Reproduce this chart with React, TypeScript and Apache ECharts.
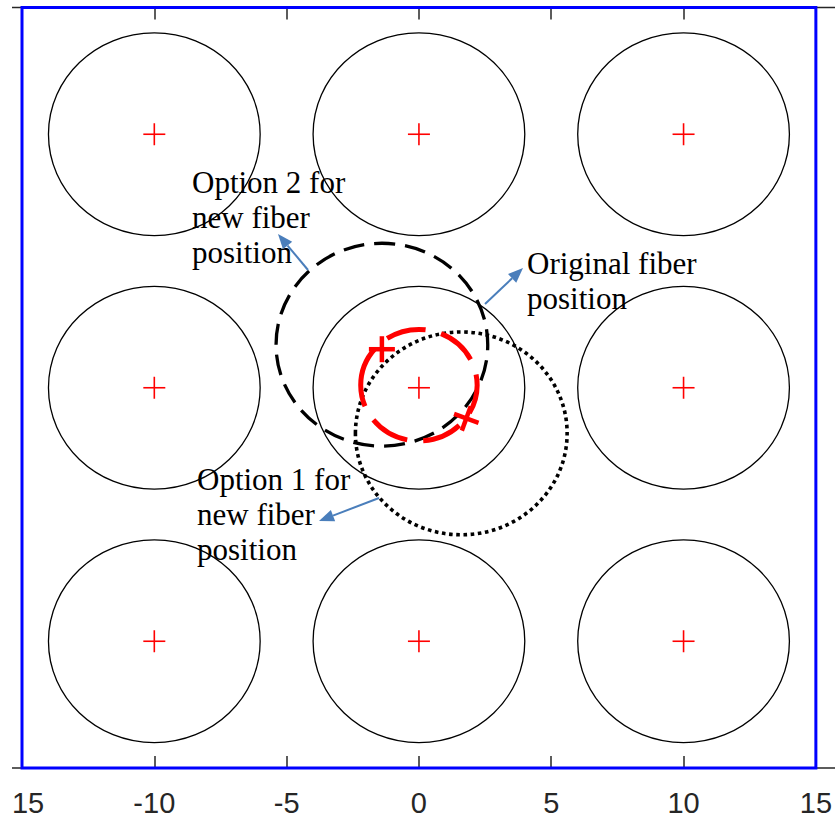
import React, { useEffect, useRef } from "react";
import * as echarts from "echarts";

// ---- data ----
const xTickValues = [-15, -10, -5, 0, 5, 10, 15];
const xTickLabels = ["15", "-10", "-5", "0", "5", "10", "15"];
const domainBox = [[-15, -15, 15, 15]];
const fiberCenters = [
  [-10, 10], [0, 10], [10, 10],
  [-10, 0], [0, 0], [10, 0],
  [-10, -10], [0, -10], [10, -10],
];
const fiberRadius = 4;
const option2Circle = [[-1.4, 1.7, 4]];
const option1Circle = [[1.6, -1.8, 4]];
const shiftCircle = [[0, 0.1, 2.2]];
const shiftMarkers = [
  [-1.4, 1.52, 0],
  [1.79, -1.21, -20],
];

function arrow(x1: number, y1: number, x2: number, y2: number) {
  const color = "#4a7ebb";
  const dx = x2 - x1;
  const dy = y2 - y1;
  const len = Math.sqrt(dx * dx + dy * dy);
  const ux = dx / len;
  const uy = dy / len;
  const hl = 15;
  const hw = 6;
  const bx = x2 - ux * hl;
  const by = y2 - uy * hl;
  return [
    {
      type: "line",
      z: 20,
      shape: { x1, y1, x2: bx, y2: by },
      style: { stroke: color, lineWidth: 2 },
    },
    {
      type: "polygon",
      z: 20,
      shape: {
        points: [
          [x2, y2],
          [bx - uy * hw, by + ux * hw],
          [bx + uy * hw, by - ux * hw],
        ],
      },
      style: { fill: color },
    },
  ];
}

function label(x: number, y: number, text: string) {
  return {
    type: "text",
    z: 20,
    x,
    y,
    style: {
      text,
      fill: "#000",
      font: '31px "Liberation Serif", "Times New Roman", serif',
      lineHeight: 35,
      verticalAlign: "top",
      align: "left",
    },
  };
}

function circleSeries(data: number[][], stroke: string, lineWidth: number, lineDash: any, z = 3) {
  return {
    type: "custom",
    z,
    data,
    renderItem: (params: any, api: any) => {
      const c = api.coord([api.value(0), api.value(1)]);
      const s = api.size([api.value(2), api.value(2)]);
      return {
        type: "ellipse",
        shape: { cx: c[0], cy: c[1], rx: s[0], ry: s[1] },
        style: { fill: "none", stroke, lineWidth, lineDash },
      };
    },
  };
}

export default function App() {
  const ref = useRef<HTMLDivElement>(null);
  useEffect(() => {
    if (!ref.current) return;
    const chart = echarts.init(ref.current, null, { renderer: "svg" });
    const axisCommon = {
      type: "value",
      min: -15,
      max: 15,
      interval: 5,
      splitLine: { show: false },
      axisLine: { show: true, onZero: false, lineStyle: { color: "#262626", width: 1.5 } },
      axisTick: { show: true, inside: true, length: 12, lineStyle: { color: "#262626", width: 1.5 } },
    };
    const labelFont = '"Liberation Sans", Arial, sans-serif';
    chart.setOption({
      animation: false,
      backgroundColor: "#ffffff",
      grid: { left: 22, right: 17, top: 7.5, bottom: 50 },
      xAxis: [
        {
          ...axisCommon,
          position: "bottom",
          axisLabel: {
            show: true,
            margin: 20,
            color: "#262626",
            fontSize: 29,
            fontFamily: labelFont,
            formatter: (v: number) => {
              const i = xTickValues.indexOf(v);
              const t = i >= 0 ? xTickLabels[i] : String(v);
              return i === 0 ? "{l|" + t + "}" : t;
            },
            rich: {
              l: {
                fontSize: 29,
                color: "#262626",
                fontFamily: labelFont,
                padding: [0, 0, 0, 12],
              },
            },
          },
        },
        {
          ...axisCommon,
          position: "top",
          axisLabel: { show: false },
        },
      ],
      yAxis: { type: "value", min: -15, max: 15, show: false },
      graphic: [
        { type: "line", z: 0, shape: { x1: 12, y1: 7.5, x2: 835, y2: 7.5 }, style: { stroke: "#262626", lineWidth: 1.5 } },
        { type: "line", z: 0, shape: { x1: 12, y1: 768, x2: 835, y2: 768 }, style: { stroke: "#262626", lineWidth: 1.5 } },
        label(192, 165, "Option 2 for\nnew fiber\nposition"),
        label(197, 462, "Option 1 for\nnew fiber\nposition"),
        label(527, 246, "Original fiber\nposition"),
        ...arrow(308, 270, 278, 234),
        ...arrow(485, 304, 523, 268),
        ...arrow(379, 498, 319, 521),
      ],
      series: [
        circleSeries(fiberCenters.map((c) => [c[0], c[1], fiberRadius]), "#000", 1.3, null),
        circleSeries(option2Circle, "#000", 3.3, [21, 10], 4),
        circleSeries(option1Circle, "#000", 3.6, [3.6, 3.6], 4),
        circleSeries(shiftCircle, "#ff0000", 5, [40, 16], 5),
        {
          type: "custom",
          z: 6,
          data: fiberCenters,
          renderItem: (params: any, api: any) => {
            const c = api.coord([api.value(0), api.value(1)]);
            const h = 11;
            return {
              type: "group",
              children: [
                { type: "line", shape: { x1: c[0] - h, y1: c[1], x2: c[0] + h, y2: c[1] }, style: { stroke: "#ff0000", lineWidth: 1.6 } },
                { type: "line", shape: { x1: c[0], y1: c[1] - h, x2: c[0], y2: c[1] + h }, style: { stroke: "#ff0000", lineWidth: 1.6 } },
              ],
            };
          },
        },
        {
          type: "custom",
          z: 6,
          data: shiftMarkers,
          renderItem: (params: any, api: any) => {
            const c = api.coord([api.value(0), api.value(1)]);
            const h = 13;
            return {
              type: "group",
              x: c[0],
              y: c[1],
              rotation: (api.value(2) * Math.PI) / 180,
              children: [
                { type: "line", shape: { x1: -h, y1: 0, x2: h, y2: 0 }, style: { stroke: "#ff0000", lineWidth: 4.5 } },
                { type: "line", shape: { x1: 0, y1: -h, x2: 0, y2: h }, style: { stroke: "#ff0000", lineWidth: 4.5 } },
              ],
            };
          },
        },
        {
          type: "custom",
          z: 8,
          data: domainBox,
          renderItem: (params: any, api: any) => {
            const p1 = api.coord([api.value(0), api.value(3)]);
            const p2 = api.coord([api.value(2), api.value(1)]);
            return {
              type: "rect",
              shape: { x: p1[0], y: p1[1], width: p2[0] - p1[0], height: p2[1] - p1[1] },
              style: { fill: "none", stroke: "#0000ff", lineWidth: 3 },
            };
          },
        },
      ],
    });
    return () => chart.dispose();
  }, []);
  return (
    <div
      ref={ref}
      style={{ position: "absolute", left: 0, top: 0, width: 835, height: 818 }}
    />
  );
}
